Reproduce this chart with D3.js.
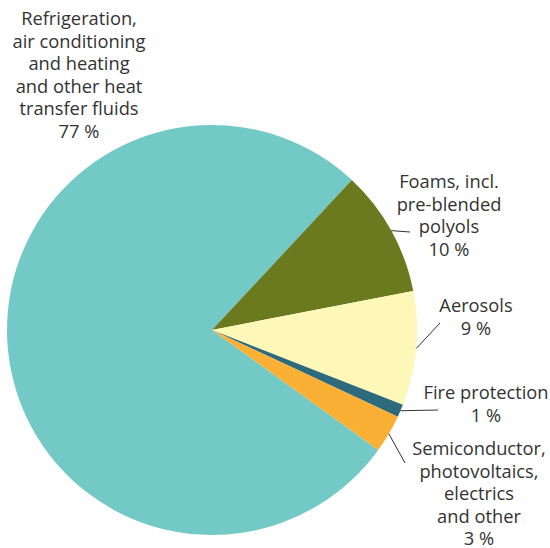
<!DOCTYPE html>
<html><head><meta charset="utf-8">
<script src="https://cdn.jsdelivr.net/npm/d3@7"></script>
<style>body{margin:0;background:#fff}svg{display:block}</style>
</head><body>
<script>
const categories = [
  ["Refrigeration,","air conditioning","and heating","and other heat","transfer fluids"],
  ["Foams, incl.","pre-blended","polyols"],
  ["Aerosols"],
  ["Fire protection"],
  ["Semiconductor,","photovoltaics,","electrics","and other"]
];
const values = [77, 10, 9, 1, 3];
const colors = ["#73c9c5", "#6b7a1f", "#fdf8b8", "#2d6a7c", "#fab034"];
// label layout: text centre x, first-line y, leader end point (null = no leader)
const labelLayout = [
  {x: 79, y: 19, end: null},
  {x: 449, y: 182, end: [410, 232]},
  {x: 476, y: 306, end: [440, 323]},
  {x: 486, y: 393, end: [438, 410]},
  {x: 479, y: 449, end: [405, 463]}
];

const W = 550, H = 548, cx = 212, cy = 330, R = 205;
const svg = d3.select("body").append("svg").attr("width", W).attr("height", H);
const start = -234.2 * Math.PI / 180;
const pie = d3.pie().sort(null).value(d => d).startAngle(start).endAngle(start + 2 * Math.PI);
const arcs = pie(values);
const arc = d3.arc().innerRadius(0).outerRadius(R);
const g = svg.append("g").attr("transform", `translate(${cx},${cy})`);
g.selectAll("path").data(arcs).join("path")
  .attr("d", arc).attr("fill", (d, i) => colors[i]);

const lh = 22.6;
arcs.forEach((a, i) => {
  const L = labelLayout[i];
  if (L.end) {
    const m = (a.startAngle + a.endAngle) / 2;
    const sx = cx + R * Math.sin(m), sy = cy - R * Math.cos(m);
    svg.append("line").attr("x1", sx).attr("y1", sy).attr("x2", L.end[0]).attr("y2", L.end[1])
      .attr("stroke", "#333").attr("stroke-width", 1);
  }
  const lines = categories[i].concat([values[i] + " %"]);
  const t = svg.append("text").attr("text-anchor", "middle")
    .attr("font-family", "'Open Sans', sans-serif").attr("font-size", 18.3).attr("fill", "#333");
  lines.forEach((s, k) => {
    t.append("tspan").attr("x", L.x).attr("y", L.y + k * lh).attr("dy", "0.33em").text(s);
  });
});
</script>
</body></html>
